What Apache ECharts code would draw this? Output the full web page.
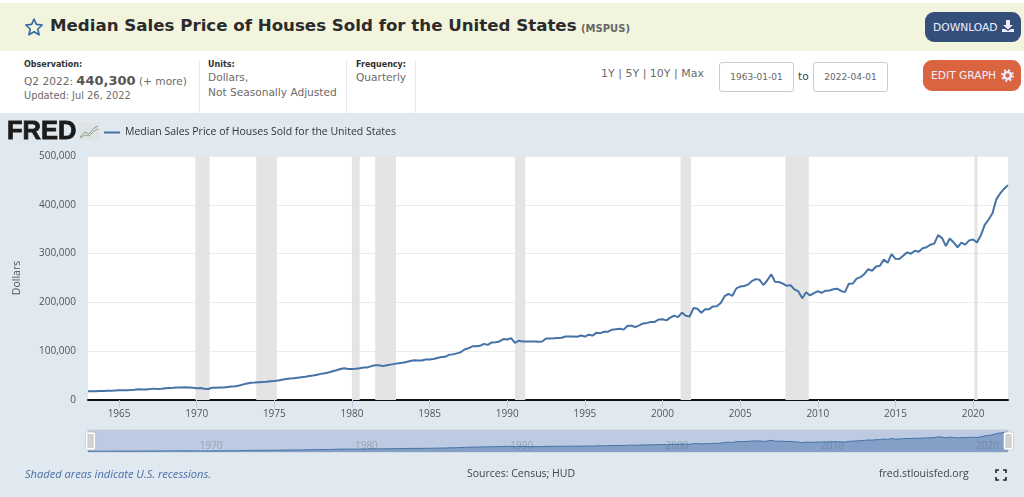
<!DOCTYPE html>
<html><head><meta charset="utf-8"><title>MSPUS</title>
<script src="https://cdn.jsdelivr.net/npm/echarts@6/dist/echarts.min.js"></script>
<style>
html,body{margin:0;padding:0;width:1024px;height:497px;overflow:hidden;background:#fff;font-family:"DejaVu Sans",sans-serif;}
.abs{position:absolute;white-space:nowrap;}
#chart{position:absolute;left:0;top:113px;width:1024px;height:384px;background:#e1e9f0;}
#bar{position:absolute;left:0;top:3px;width:1024px;height:48px;background:#f2f4de;}
.sep{position:absolute;top:60px;width:1px;height:53px;background:#e3ebf3;}
.lab{font-size:8px;font-weight:bold;color:#333;}
.val{font-size:10.6px;color:#6b6b6b;}
.inp{position:absolute;top:62px;width:73px;height:28px;border:1px solid #ccc;border-radius:3px;background:#fff;font-size:9px;color:#666;text-align:center;line-height:29px;}
.btn{position:absolute;border-radius:9px;color:#eef;font-size:10.7px;}
.foot{font-family:"Open Sans",sans-serif;font-size:10.5px;color:#444;}
</style></head><body>
<div id="bar"></div>
<svg class="abs" style="left:24px;top:17px" width="20" height="20" viewBox="0 0 20 20"><path d="M10 2 L12.4 7.4 L18.2 8 L13.8 12 L15.1 17.8 L10 14.8 L4.9 17.8 L6.2 12 L1.8 8 L7.6 7.4 Z" fill="none" stroke="#2f67a8" stroke-width="1.6" stroke-linejoin="round"/></svg>
<div class="abs" style="left:50px;top:16px;font-size:16.65px;font-weight:bold;color:#2b2b2b;">Median Sales Price of Houses Sold for the United States</div>
<div class="abs" style="left:581px;top:23px;font-size:10px;font-weight:bold;color:#666;">(MSPUS)</div>
<div class="btn abs" style="left:925px;top:12px;width:96px;height:30px;background:#34507a;line-height:31px;text-indent:8px;">DOWNLOAD</div>
<svg class="abs" style="left:1001px;top:19px" width="14" height="14" viewBox="0 0 14 14"><path d="M5 1h4v5h3L7 10.5 2 6h3z M1 10h3l3 2 3-2h3v3H1z" fill="#eef"/></svg>
<div class="btn abs" style="left:923px;top:60px;width:98px;height:31px;background:#d9643f;line-height:31px;text-indent:8px;">EDIT GRAPH</div>
<svg class="abs" style="left:1001px;top:69px" width="13" height="13" viewBox="0 0 13 13"><circle cx="6.5" cy="6.5" r="3.4" fill="none" stroke="#eef" stroke-width="2.4"/><circle cx="6.5" cy="6.5" r="5.4" fill="none" stroke="#eef" stroke-width="2" stroke-dasharray="2 2.24"/></svg>

<div class="abs lab" style="left:24px;top:60px;">Observation:</div>
<div class="abs val" style="left:24px;top:73px;">Q2 2022: <b style="font-size:13px;color:#555;">440,300</b> (+ more)</div>
<div class="abs val" style="left:24px;top:90px;font-size:9.8px;">Updated: Jul 26, 2022</div>
<div class="sep" style="left:199px"></div>
<div class="abs lab" style="left:208px;top:60px;">Units:</div>
<div class="abs val" style="left:208px;top:71px;">Dollars,</div>
<div class="abs val" style="left:208px;top:86px;">Not Seasonally Adjusted</div>
<div class="sep" style="left:346px"></div>
<div class="abs lab" style="left:356px;top:60px;">Frequency:</div>
<div class="abs val" style="left:356px;top:71px;">Quarterly</div>
<div class="sep" style="left:415px"></div>
<div class="abs val" style="left:601px;top:67px;font-size:11px;">1Y | 5Y | 10Y | Max</div>
<div class="inp" style="left:719px">1963-01-01</div>
<div class="abs val" style="left:798px;top:70px;color:#444;">to</div>
<div class="inp" style="left:813px">2022-04-01</div>

<div id="chart"></div>

<div class="abs" style="left:7px;top:116px;font-family:'Liberation Sans',sans-serif;font-weight:bold;font-size:25.5px;color:#1c1c1c;-webkit-text-stroke:0.8px #1c1c1c;">FRED</div>
<svg class="abs" style="left:79px;top:122px" width="20" height="18" viewBox="0 0 20 18"><rect width="20" height="18" fill="#dfe3e3"/><path d="M1 15 L6 10 L10 12 L15 6 L19 4" fill="none" stroke="#7d9fb8" stroke-width="1"/><path d="M1 16 L6 13 L10 14 L15 9 L19 7" fill="none" stroke="#93a878" stroke-width="1"/></svg>

<div class="abs foot" style="left:25px;top:466px;font-style:italic;font-size:11.1px;color:#4a6ea6;">Shaded areas indicate U.S. recessions.</div>
<div class="abs foot" style="left:467px;top:466px;">Sources: Census; HUD</div>
<div class="abs foot" style="left:879px;top:466px;">fred.stlouisfed.org</div>
<svg class="abs" style="left:995px;top:469px" width="12" height="12" viewBox="0 0 12 12"><path d="M1 4V1h3 M8 1h3v3 M11 8v3H8 M4 11H1V8" fill="none" stroke="#222" stroke-width="1.6"/></svg>

<script>
var seriesName = 'Median Sales Price of Houses Sold for the United States';
var startYear = 1963;
var values1960s = [17800,18000,17900,18500, 18500,18900,18900,19400, 20200,19800,20200,20300, 21000,22100,21500,21400, 22300,23300,22500,23000, 23900,24800,25000,25600, 25700,25900,25400,24900];
var values1970s = [23900,24400,23000,22600, 25300,25300,25800,25700, 26800,27700,28300,29800, 32000,34000,35200,35800, 36500,37000,37500,38500, 39000,40000,41500,43000, 44000,44500,45500,46500, 47500,49000,50000,51600, 53500,55000,56500,59000, 61000,63500,65000,63500];
var values1980s = [63700,64000,64900,66400, 66800,69400,71000,71400, 69400,71000,72500,74000, 75500,76500,78000,79900, 81500,81000,81000,83000, 82800,84000,86000,88000, 88500,92500,93500,95500, 97900,103400,106000,110000, 110000,111000,115000,113000, 118000,118500,120000,124800];
var values1990s = [123900,126800,117000,121500, 120000,119900,120000,120000, 119500,120000,126000,126000, 126500,127000,127500,130000, 130000,130000,129700,132000, 130000,133900,132000,138000, 137000,139900,140000,144000, 145000,145800,144200,152000, 152000,149500,153000,157000, 158000,160000,160000,165000];
var values2000s = [165300,163200,168800,172900, 169800,179000,172500,171100, 188700,187200,178900,186000, 186000,191800,191900,198800, 212700,217600,213500,228800, 232500,233700,236400,243600, 247700,246300,235600,245400, 257400,242200,241800,238400, 233900,235300,226500,222500, 208400,220900,214300,219000];
var values2010s = [222900,219500,224100,224300, 226900,228100,223500,221100, 238400,238700,248800,251700, 258400,268100,264800,273600, 275200,288000,281000,298900, 289200,289100,295800,302500, 299800,306000,303800,310900, 313100,318200,320500,337900, 331800,315600,330900,322800, 313000,322500,318400,327100];
var values2020s = [329000,322600,337500,358700, 369800,382600,411200,423600, 433100,440300];
var recessionStarts = ['1969-12-01','1973-11-01','1980-01-01','1981-07-01','1990-07-01','2001-03-01','2007-12-01','2020-02-01'];
var recessionEnds   = ['1970-11-01','1975-03-01','1980-07-01','1982-11-01','1991-03-01','2001-11-01','2009-06-01','2020-04-15'];
var xTickYears = [1965,1970,1975,1980,1985,1990,1995,2000,2005,2010,2015,2020];
var navTickYears = [1970,1980,1990,2000,2010,2020];

var allValues = [].concat(values1960s,values1970s,values1980s,values1990s,values2000s,values2010s,values2020s);
var points = allValues.map(function(v,i){
  var y = startYear + Math.floor(i/4), m = (i%4)*3;
  return [Date.UTC(y,m,1), v];
});
var xMin = points[0][0], xMax = points[points.length-1][0];
function yearStamp(y){ return Date.UTC(y,0,1); }
function dayStamp(s){ return Date.parse(s+'T00:00:00Z'); }
function yearLabel(v){ return String(new Date(v).getUTCFullYear()); }
var chart = echarts.init(document.getElementById('chart'), null, {renderer:'canvas'});
var uiFont = 'Open Sans';
chart.setOption({
  animation:false,
  backgroundColor:'#e1e9f0',
  legend:{ data:[seriesName], left:99, top:9, itemWidth:16, itemHeight:2, itemGap:5, icon:'rect', selectedMode:false,
    textStyle:{fontFamily:uiFont,fontSize:10.5,color:'#333'} },
  grid:[
    {left:88,top:43,width:920,height:244,show:true,backgroundColor:'#fff',borderWidth:0},
    {left:88,top:317,width:920,height:22,show:true,backgroundColor:'#bccbe2',borderColor:'#c8ced6',borderWidth:1}
  ],
  xAxis:[
    {type:'value',gridIndex:0,min:xMin,max:xMax,
      axisLine:{show:true,onZero:true,lineStyle:{color:'#111',width:2}},
      axisTick:{show:true,length:8,lineStyle:{color:'#c0d0e0',width:1},customValues:xTickYears.map(yearStamp)},
      splitLine:{show:false},
      axisLabel:{customValues:xTickYears.map(yearStamp),hideOverlap:false,margin:9,fontFamily:uiFont,fontSize:10,color:'#555',formatter:yearLabel}},
    {type:'value',gridIndex:1,min:xMin,max:xMax,
      axisLine:{show:false},axisTick:{show:false},splitLine:{show:false},
      axisLabel:{inside:true,customValues:navTickYears.map(yearStamp),margin:1,align:'left',padding:[0,0,0,3],fontFamily:uiFont,fontSize:10,color:'rgba(90,100,115,0.38)',formatter:yearLabel},
      z:5}
  ],
  yAxis:[
    {type:'value',gridIndex:0,min:0,max:500000,interval:100000,name:'Dollars',nameLocation:'middle',nameGap:65,nameRotate:90,
      nameTextStyle:{fontFamily:uiFont,fontSize:10.5,color:'#555'},
      axisLine:{show:false},axisTick:{show:false},splitLine:{show:true,lineStyle:{color:'#ececec',width:1}},
      axisLabel:{margin:12,fontFamily:uiFont,fontSize:10,color:'#555',formatter:function(v){return v.toLocaleString('en-US');}}},
    {type:'value',gridIndex:1,min:0,max:490000,show:false}
  ],
  dataZoom:[{type:'slider',xAxisIndex:[0],filterMode:'none',left:88,width:920,top:317,height:22,start:0,end:100,
    showDataShadow:false,showDetail:false,brushSelect:false,moveHandleSize:0,
    backgroundColor:'transparent',borderColor:'transparent',fillerColor:'transparent',
    handleIcon:'path://M1,0H9A1,1 0 0 1 10,1V19A1,1 0 0 1 9,20H1A1,1 0 0 1 0,19V1A1,1 0 0 1 1,0Z',handleSize:'70%',
    handleStyle:{color:'#d4d4d4',borderColor:'#fff',borderWidth:2,shadowBlur:1,shadowColor:'#888'}}],
  series:[
    {name:seriesName,type:'line',xAxisIndex:0,yAxisIndex:0,data:points,showSymbol:false,symbol:'none',
      lineStyle:{color:'#4572a7',width:2},itemStyle:{color:'#4572a7'},z:3,
      markArea:{silent:true,itemStyle:{color:'#e4e4e4'},
        data:recessionStarts.map(function(s,i){return [{xAxis:dayStamp(s)},{xAxis:dayStamp(recessionEnds[i])}];})}},
    {name:'navigator',type:'line',xAxisIndex:1,yAxisIndex:1,data:points,showSymbol:false,symbol:'none',
      lineStyle:{color:'#4572a7',width:1},areaStyle:{color:'#85a0c7',opacity:1},z:2}
  ]
});
</script>
</body></html>
